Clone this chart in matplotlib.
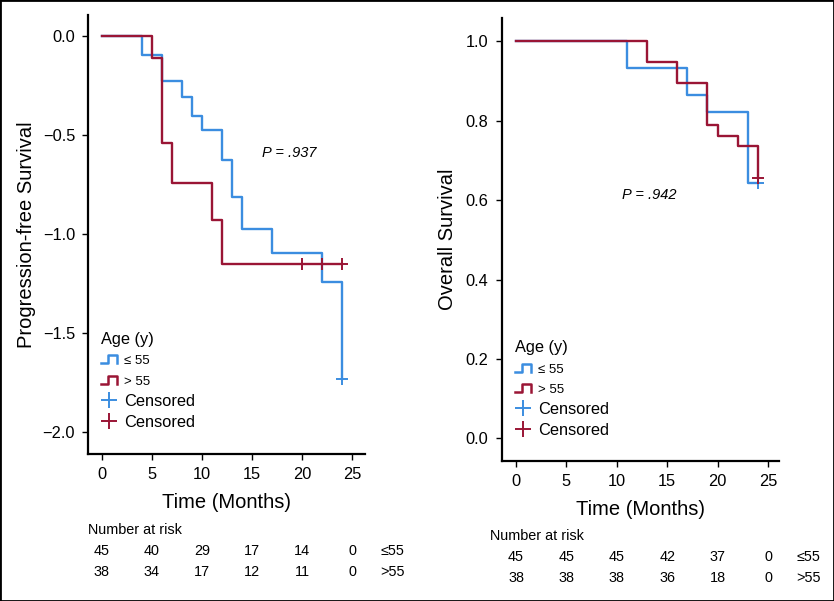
import numpy as np
import matplotlib
matplotlib.use("Agg")
import matplotlib.pyplot as plt
from matplotlib.lines import Line2D
from matplotlib.legend_handler import HandlerBase
from matplotlib.patches import Rectangle
from matplotlib.transforms import blended_transform_factory

BLUE = "#3b8de0"
RED = "#9a1535"

plt.rcParams["font.family"] = ["Liberation Sans Narrow", "Liberation Sans", "DejaVu Sans"]

# Progression-free survival curves (step points)
pfs_le55_t = [0, 4, 6, 8, 9, 10, 12, 13, 14, 17, 22, 24]
pfs_le55_s = [0, -0.094, -0.225, -0.31, -0.405, -0.474, -0.626, -0.81, -0.972, -1.097, -1.24, -1.73]
pfs_le55_cens_t = [24]
pfs_le55_cens_s = [-1.73]

pfs_gt55_t = [0, 5, 6, 7, 11, 12, 24]
pfs_gt55_s = [0, -0.113, -0.54, -0.744, -0.93, -1.152, -1.152]
pfs_gt55_cens_t = [20, 22, 24]
pfs_gt55_cens_s = [-1.152, -1.152, -1.152]

# Overall survival curves
os_le55_t = [0, 11, 17, 19, 23, 24]
os_le55_s = [1.0, 0.933, 0.866, 0.823, 0.643, 0.643]
os_le55_cens_t = [24]
os_le55_cens_s = [0.643]

os_gt55_t = [0, 13, 16, 19, 20, 22, 24]
os_gt55_s = [1.0, 0.947, 0.896, 0.789, 0.761, 0.736, 0.657]
os_gt55_cens_t = [24]
os_gt55_cens_s = [0.657]

# Number at risk
risk_times = [0, 5, 10, 15, 20, 25]
pfs_risk_le55 = [45, 40, 29, 17, 14, 0]
pfs_risk_gt55 = [38, 34, 17, 12, 11, 0]
os_risk_le55 = [45, 45, 45, 42, 37, 0]
os_risk_gt55 = [38, 38, 38, 36, 18, 0]
group_labels = ["≤55", ">55"]
legend_labels = ["≤ 55", "> 55", "Censored", "Censored"]

pfs_ticks = [0.0, -0.5, -1.0, -1.5, -2.0]
os_ticks = [0.0, 0.2, 0.4, 0.6, 0.8, 1.0]
x_ticks = [0, 5, 10, 15, 20, 25]


class StepHandler(HandlerBase):
    def create_artists(self, legend, orig_handle, xdescent, ydescent, width, height, fontsize, trans):
        xs = np.array([0, 0.45, 0.45, 1.0, 1.0]) * width - xdescent
        ys = np.array([0.1, 0.1, 0.8, 0.8, 0.1]) * height - ydescent
        line = Line2D(xs, ys, color=orig_handle.get_color(), lw=orig_handle.get_linewidth())
        line.set_transform(trans)
        return [line]


def style_axes(ax):
    for side in ("top", "right"):
        ax.spines[side].set_visible(False)
    for side in ("left", "bottom"):
        ax.spines[side].set_linewidth(1.6)
    ax.tick_params(direction="out", length=4, width=1.0, pad=5.5, labelsize=11.8)
    ax.set_xticks(x_ticks)


def draw_panel(ax, curves, cens, p_text, p_xy, ylabel, ylab_x, leg_anchor):
    for (t, s), color in zip(curves, [BLUE, RED]):
        ax.step(t, s, where="post", color=color, lw=1.7)
    for (t, s), color in zip(cens, [BLUE, RED]):
        ax.plot(t, s, ls="none", marker="+", ms=9, mew=1.4, color=color)
    ax.text(p_xy[0], p_xy[1], p_text, style="italic", fontsize=10.5, ha="left", va="center")
    ax.set_xlabel("Time (Months)", fontsize=14.5)
    ax.xaxis.label.set_va("center")
    ax.xaxis.set_label_coords(0.5, -0.11)
    ax.set_ylabel(ylabel, fontsize=14.5)
    ax.yaxis.label.set_va("center")
    ax.yaxis.set_label_coords(ylab_x, 0.5)

    handles = [
        Line2D([], [], color=BLUE, lw=1.8),
        Line2D([], [], color=RED, lw=1.8),
        Line2D([], [], ls="none", marker="+", ms=12, mew=1.4, color=BLUE),
        Line2D([], [], ls="none", marker="+", ms=12, mew=1.4, color=RED),
    ]
    leg = ax.legend(
        handles, legend_labels, title="Age (y)", loc="upper left", bbox_to_anchor=leg_anchor,
        frameon=False, fontsize=11.8, title_fontsize=11.8, handlelength=0.95, handletextpad=0.45,
        labelspacing=0.36, borderpad=0, borderaxespad=0, alignment="left",
        handler_map={handles[0]: StepHandler(), handles[1]: StepHandler()},
    )
    for txt in leg.get_texts()[:2]:
        txt.set_fontsize(9.5)


def draw_risk(fig, ax, title_y, row_ys, rows, title_x):
    tr = blended_transform_factory(ax.transData, fig.transFigure)
    H = fig.get_figheight() * fig.dpi
    fig.text(title_x / (fig.get_figwidth() * fig.dpi), 1 - title_y / H, "Number at risk",
             fontsize=10.4, ha="left", va="center")
    for row, y, lab in zip(rows, row_ys, group_labels):
        for t, n in zip(risk_times, row):
            ax.text(t, 1 - y / H, str(n), transform=tr, fontsize=10.4, ha="center", va="center")
        ax.text(29, 1 - y / H, lab, transform=tr, fontsize=10.4, ha="center", va="center")


fig = plt.figure(figsize=(8.34, 6.01), dpi=100)
ax1 = fig.add_axes([0.1059, 0.2446, 0.3318, 0.7304])
ax2 = fig.add_axes([0.6016, 0.2334, 0.3325, 0.7362])

style_axes(ax1)
style_axes(ax2)

draw_panel(ax1, [(pfs_le55_t, pfs_le55_s), (pfs_gt55_t, pfs_gt55_s)],
           [(pfs_le55_cens_t, pfs_le55_cens_s), (pfs_gt55_cens_t, pfs_gt55_cens_s)],
           "P = .937", (16.0, -0.589), "Progression-free Survival", -0.223, (0.046, 0.278))
ax1.set_xlim(-1.34, 26.3)
ax1.set_ylim(-2.109, 0.106)
ax1.set_yticks(pfs_ticks)

draw_panel(ax2, [(os_le55_t, os_le55_s), (os_gt55_t, os_gt55_s)],
           [(os_le55_cens_t, os_le55_cens_s), (os_gt55_cens_t, os_gt55_cens_s)],
           "P = .942", (10.5, 0.612), "Overall Survival", -0.1955, (0.048, 0.272))
ax2.set_xlim(-1.42, 26.1)
ax2.set_ylim(-0.056, 1.058)
ax2.set_yticks(os_ticks)

draw_risk(fig, ax1, 530, [551, 572.5], [pfs_risk_le55, pfs_risk_gt55], 88)
draw_risk(fig, ax2, 536, [557, 578.5], [os_risk_le55, os_risk_gt55], 490.5)

fig.patches.append(Rectangle((0, 0), 1, 1, transform=fig.transFigure, fill=False,
                             edgecolor="black", lw=2.0))

fig.savefig("out.png", dpi=100)
